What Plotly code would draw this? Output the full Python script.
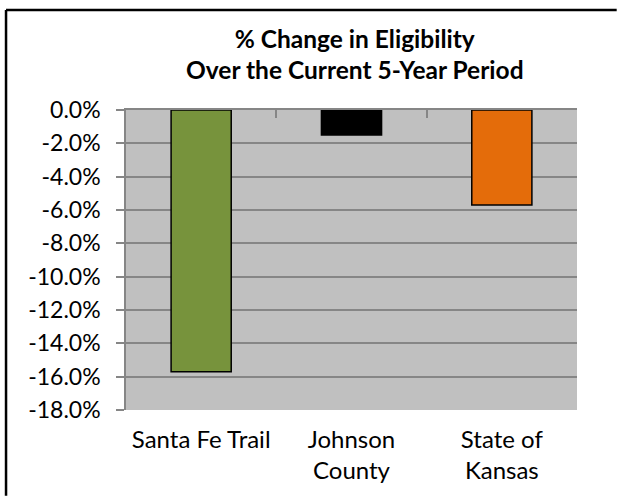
import plotly.graph_objects as go

categories = ["Santa Fe Trail", "Johnson<br>County", "State of<br>Kansas"]
values = [-0.157, -0.015, -0.057]
colors = ["#77933C", "#000000", "#E46C0A"]
tick_values = [0, -0.02, -0.04, -0.06, -0.08, -0.10, -0.12, -0.14, -0.16, -0.18]
tick_labels = ["0.0%", "-2.0%", "-4.0%", "-6.0%", "-8.0%", "-10.0%", "-12.0%",
               "-14.0%", "-16.0%", "-18.0%"]
title_text = "<b>% Change in Eligibility<br>Over the Current 5-Year Period</b>"

FONT = "Lato"
GRID = "#868686"

fig = go.Figure()
fig.add_trace(go.Bar(
    x=categories, y=values, width=0.4,
    marker=dict(color=colors, line=dict(color="black", width=1.5)),
    hoverinfo="skip", showlegend=False,
))
# helper trace to draw top category axis with boundary ticks
fig.add_trace(go.Bar(
    x=categories, y=[0, 0, 0], xaxis="x2", opacity=0,
    hoverinfo="skip", showlegend=False,
))

border = dict(color="black", width=2.5)
fig.update_layout(
    width=617, height=496,
    margin=dict(l=126, r=40, t=110, b=86, autoexpand=False),
    paper_bgcolor="white",
    plot_bgcolor="#C0C0C0",
    title=dict(text=title_text, x=0.575, xanchor="center", y=0.904, yanchor="top",
               font=dict(family=FONT, size=24.5, color="black")),
    font=dict(family=FONT, color="black"),
    xaxis=dict(
        showgrid=False, showline=False, ticks="",
        tickfont=dict(size=24, family=FONT, color="black"),
        ticklabelstandoff=13,
        range=[-0.5, 2.5], automargin=False,
    ),
    xaxis2=dict(
        overlaying="x", side="top", range=[-0.5, 2.5],
        showticklabels=False, ticks="inside", tickson="boundaries",
        ticklen=8, tickcolor=GRID, tickwidth=1.5,
        showline=True, linecolor=GRID, linewidth=1.5, showgrid=False,
    ),
    yaxis=dict(
        range=[-0.18, 0], tickvals=tick_values, ticktext=tick_labels,
        showgrid=True, gridcolor=GRID, gridwidth=1.5,
        showline=True, linecolor=GRID, linewidth=1.5,
        ticks="outside", ticklen=8, tickcolor=GRID, tickwidth=1.5,
        ticklabelstandoff=11,
        tickfont=dict(size=23, family=FONT, color="black"),
        zeroline=False, automargin=False,
    ),
    shapes=[
        dict(type="line", xref="paper", yref="paper",
             x0=-0.266, x1=-0.266, y0=-0.286, y1=1.333, line=border, layer="above"),
        dict(type="line", xref="paper", yref="paper",
             x0=-0.266, x1=1.088, y0=1.333, y1=1.333, line=border, layer="above"),
    ],
)
fig.write_html("out.html", config={"displayModeBar": False},
               post_script="document.body.style.margin='0';")
